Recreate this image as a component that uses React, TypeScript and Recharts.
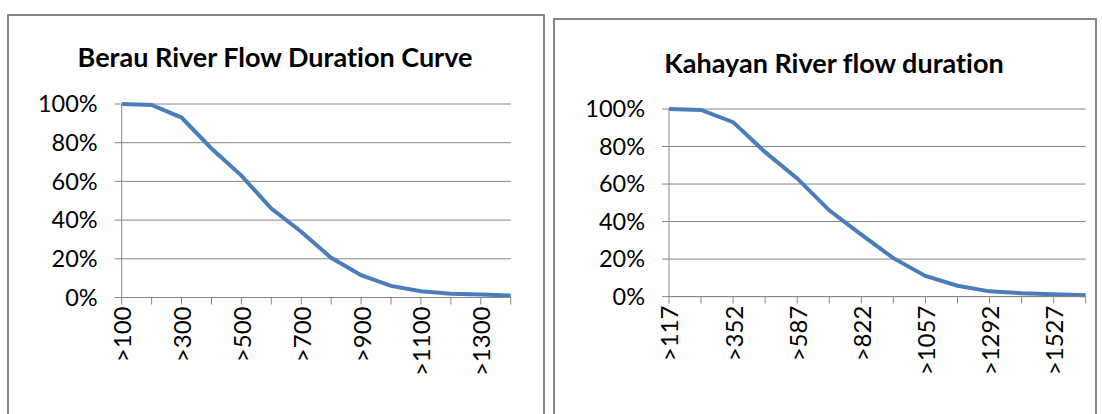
import React from 'react';
import { LineChart, Line, XAxis, YAxis, CartesianGrid } from 'recharts';

const berauCategories = ['>100', '>200', '>300', '>400', '>500', '>600', '>700', '>800', '>900', '>1000', '>1100', '>1200', '>1300', '>1400'];
const berauValues = [1.0, 0.995, 0.93, 0.77, 0.63, 0.46, 0.34, 0.205, 0.115, 0.06, 0.032, 0.02, 0.015, 0.01];

const kahayanCategories = ['>117', '>235', '>352', '>470', '>587', '>705', '>822', '>940', '>1057', '>1175', '>1292', '>1409', '>1527', '>1644'];
const kahayanValues = [1.0, 0.995, 0.93, 0.77, 0.63, 0.46, 0.33, 0.205, 0.11, 0.058, 0.028, 0.018, 0.012, 0.007];

const yTicks = [0, 0.2, 0.4, 0.6, 0.8, 1];

const FONT = 'Lato, "Open Sans", sans-serif';
const GRAY = '#868686';
const LINE = '#4A7EBB';

const berauData = berauCategories.map((c, i) => ({ label: c, v: berauValues[i] }));
const kahayanData = kahayanCategories.map((c, i) => ({ label: c, v: kahayanValues[i] }));

const XTick = (props: any) => {
  const { x, y, payload } = props;
  const idx = props.index ?? payload.index;
  if (idx % 2 !== 0) return null;
  return (
    <text
      x={x}
      y={y}
      transform={`rotate(-90, ${x}, ${y})`}
      textAnchor="end"
      dominantBaseline="central"
      fontFamily={FONT}
      fontSize={24}
      fill="#000"
    >
      {payload.value}
    </text>
  );
};

const pct = (v: number) => `${Math.round(v * 100)}%`;

type PanelProps = {
  title: string;
  data: { label: string; v: number }[];
  left: number;
  top: number;
  width: number;
  chartLeft: number;
  chartWidth: number;
  yAxisWidth: number;
  marginTop: number;
  marginRight: number;
  marginBottom: number;
  titleTop: number;
  titleCenter: number;
};

const Panel = (p: PanelProps) => (
  <>
    <div
      style={{
        position: 'absolute',
        left: p.left,
        top: p.top,
        width: p.width,
        height: 430,
        border: `2px solid ${GRAY}`,
        boxSizing: 'border-box',
      }}
    />
    <div
      style={{
        position: 'absolute',
        left: p.titleCenter - 300,
        width: 600,
        top: p.titleTop,
        textAlign: 'center',
        fontFamily: FONT,
        fontWeight: 700,
        fontSize: 27,
        lineHeight: '34px',
        fontVariantLigatures: 'none',
        color: '#000',
      }}
    >
      {p.title}
    </div>
    <div style={{ position: 'absolute', left: p.chartLeft, top: 0 }}>
      <LineChart
        width={p.chartWidth}
        height={414}
        data={p.data}
        margin={{ top: p.marginTop, right: p.marginRight, bottom: p.marginBottom, left: 0 }}
      >
        <CartesianGrid horizontal vertical={false} stroke={GRAY} strokeWidth={1} />
        <XAxis
          dataKey="label"
          interval={0}
          height={100}
          tick={<XTick />}
          tickSize={7}
          tickMargin={2}
          axisLine={{ stroke: GRAY, strokeWidth: 1 }}
          tickLine={{ stroke: GRAY, strokeWidth: 1 }}
        />
        <YAxis
          domain={[0, 1]}
          ticks={yTicks}
          interval={0}
          width={p.yAxisWidth}
          tickFormatter={pct}
          tickSize={7}
          tickMargin={17}
          axisLine={{ stroke: GRAY, strokeWidth: 1 }}
          tickLine={{ stroke: GRAY, strokeWidth: 1 }}
          tick={{ fill: '#000', fontFamily: FONT, fontSize: 23.5 }}
        />
        <Line
          type="linear"
          dataKey="v"
          stroke={LINE}
          strokeWidth={4}
          dot={false}
          isAnimationActive={false}
        />
      </LineChart>
    </div>
  </>
);

export default function App() {
  return (
    <div style={{ position: 'absolute', left: 0, top: 0, width: 1102, height: 414, overflow: 'hidden', background: '#fff' }}>
      <Panel
        title="Berau River Flow Duration Curve"
        data={berauData}
        left={7}
        top={14}
        width={538}
        chartLeft={0}
        chartWidth={550}
        yAxisWidth={121.7}
        marginTop={104}
        marginRight={39.3}
        marginBottom={16.5}
        titleTop={40}
        titleCenter={275}
      />
      <Panel
        title="Kahayan River flow duration"
        data={kahayanData}
        left={553}
        top={18}
        width={544}
        chartLeft={550}
        chartWidth={552}
        yAxisWidth={119}
        marginTop={109}
        marginRight={16.3}
        marginBottom={17.4}
        titleTop={46}
        titleCenter={834}
      />
    </div>
  );
}
